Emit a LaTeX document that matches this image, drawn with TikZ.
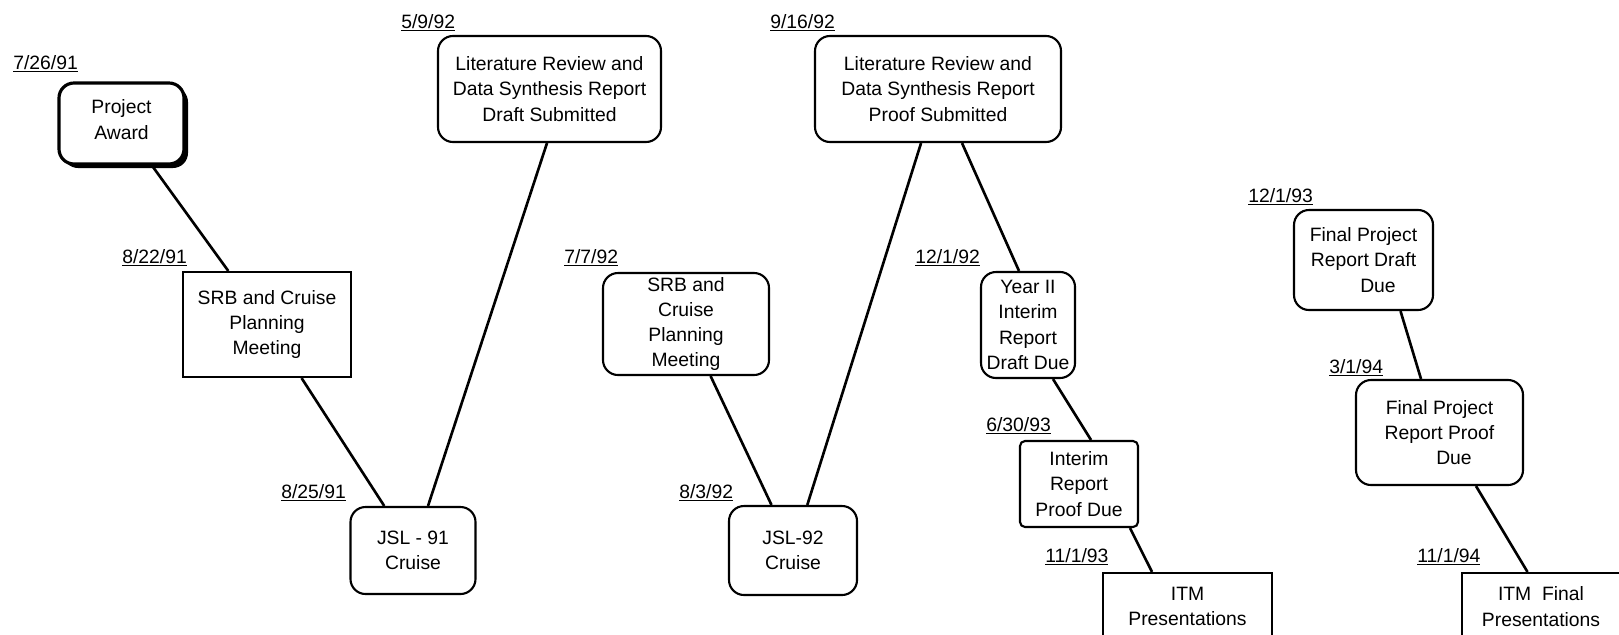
\documentclass[tikz,border=0pt]{standalone}
\usepackage{fontspec}
\setmainfont{Liberation Sans}
\usetikzlibrary{shadows}
\begin{document}
\begin{tikzpicture}[x=0.2mm, y=-0.2mm,
    event/.style={draw, line width=1.2pt, rounded corners=3mm, fill=white, align=center,
        inner sep=0pt, font=\fontsize{11}{14.4}\selectfont},
    meeting/.style={event, sharp corners},
    datelbl/.style={anchor=base west, inner sep=0pt, font=\fontsize{11}{13}\selectfont},
    link/.style={line width=1.5pt}]
    \useasboundingbox (0,0) rectangle (1619,634);
    \clip (0,0) rectangle (1619,634);
    % 1991
    \node[event, line width=1.8pt, minimum width=25mm, minimum height=16.2mm,
        drop shadow={opacity=1, fill=black, shadow xshift=0.8mm, shadow yshift=-0.8mm}]
        (pa) at (121.5,123.5) {Project\\Award\\[-3.5mm]};
    \node[meeting, minimum width=33.6mm, minimum height=21mm] (srbone) at (267,324.5)
        {SRB and Cruise\\Planning\\Meeting};
    \node[event, minimum width=25mm, minimum height=17.4mm] (jslone) at (413,550.5)
        {JSL - 91\\Cruise};
    % 1992
    \node[event, minimum width=44.6mm, minimum height=21.2mm] (litdraft) at (549.5,89)
        {Literature Review and\\Data Synthesis Report\\Draft Submitted};
    \node[event, minimum width=33.2mm, minimum height=20.4mm] (srbtwo) at (686,324)
        {SRB and\\Cruise\\Planning\\Meeting};
    \node[event, minimum width=25.6mm, minimum height=17.8mm] (jsltwo) at (793,550.5)
        {JSL-92\\Cruise};
    \node[event, minimum width=49.2mm, minimum height=21.2mm] (litproof) at (938,89)
        {Literature Review and\\Data Synthesis Report\\Proof Submitted};
    \node[event, minimum width=18.8mm, minimum height=21.2mm] (yeartwo) at (1028,325)
        {Year II\\Interim\\Report\\Draft Due};
    % 1993 - 1994
    \node[event, rounded corners=1mm, minimum width=23.6mm, minimum height=17.2mm]
        (interimproof) at (1079,484) {Interim\\Report\\Proof Due};
    \node[meeting, minimum width=33.8mm, minimum height=13.4mm] (itm) at (1187.5,606.5)
        {ITM\\Presentations};
    \node[event, minimum width=27.8mm, minimum height=20mm] (finaldraft) at (1363.5,260)
        {Final Project\\Report Draft\\\hspace*{1.5em}Due};
    \node[event, minimum width=33.4mm, minimum height=21mm] (finalproof) at (1439.5,432.5)
        {Final Project\\Report Proof\\\hspace*{1.5em}Due};
    \node[meeting, minimum width=31.6mm, minimum height=13.4mm] (itmfinal) at (1541,606.5)
        {ITM~~Final\\Presentations};
    % dates
    \node[datelbl] (dpa) at (13,69) {\underline{7/26/91}};
    \node[datelbl] (dsrbone) at (122,263) {\underline{8/22/91}};
    \node[datelbl] (djslone) at (281,498) {\underline{8/25/91}};
    \node[datelbl] (dlitdraft) at (401,28) {\underline{5/9/92}};
    \node[datelbl] (dsrbtwo) at (564,263) {\underline{7/7/92}};
    \node[datelbl] (djsltwo) at (679,498) {\underline{8/3/92}};
    \node[datelbl] (dlitproof) at (770,28) {\underline{9/16/92}};
    \node[datelbl] (dyeartwo) at (915,263) {\underline{12/1/92}};
    \node[datelbl] (dinterimproof) at (986,431) {\underline{6/30/93}};
    \node[datelbl] (ditm) at (1045,562) {\underline{11/1/93}};
    \node[datelbl] (dfinaldraft) at (1248,202) {\underline{12/1/93}};
    \node[datelbl] (dfinalproof) at (1329,373) {\underline{3/1/94}};
    \node[datelbl] (ditmfinal) at (1417,562) {\underline{11/1/94}};
    % connectors
    \draw[link] (pa) -- (srbone);
    \draw[link] (srbone) -- (jslone);
    \draw[link] ([xshift=3mm]jslone.north) -- ([xshift=-0.5mm]litdraft.south);
    \draw[link] (srbtwo) -- (jsltwo);
    \draw[link] (jsltwo) -- (litproof);
    \draw[link] ([xshift=4.8mm]litproof.south) -- ([xshift=-1.8mm]yeartwo.north);
    \draw[link] ([xshift=5mm]yeartwo.south) -- ([xshift=2.4mm]interimproof.north);
    \draw[link] ([xshift=10.2mm]interimproof.south) -- ([xshift=-7.1mm]itm.north);
    \draw[link] ([xshift=7.4mm]finaldraft.south) -- ([xshift=-3.7mm]finalproof.north);
    \draw[link] ([xshift=7.3mm]finalproof.south) -- ([xshift=-2.7mm]itmfinal.north);
\end{tikzpicture}
\end{document}
